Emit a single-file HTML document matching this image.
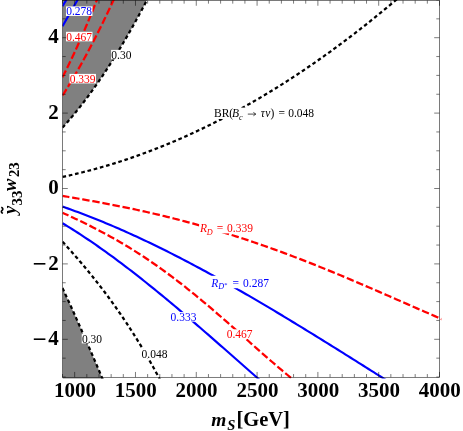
<!DOCTYPE html>
<html><head><meta charset="utf-8"><style>
html,body{margin:0;padding:0;background:#fff;}
body{width:463px;height:431px;position:relative;overflow:hidden;font-family:"Liberation Serif",serif;}
</style></head><body>
<svg width="463" height="431" viewBox="0 0 463 431" style="position:absolute;left:0;top:0;font-family:'Liberation Serif',serif;will-change:transform">
<defs><clipPath id="cp"><rect x="62.50" y="-5" width="378.80" height="383.40"/></clipPath></defs>
<g clip-path="url(#cp)" fill="none">
<path d="M62.50,127.60 L63.25,126.77 L64.01,125.94 L64.76,125.09 L65.51,124.25 L66.26,123.40 L67.02,122.54 L67.77,121.68 L68.52,120.81 L69.27,119.93 L70.03,119.05 L70.78,118.17 L71.53,117.28 L72.28,116.38 L73.04,115.48 L73.79,114.57 L74.54,113.66 L75.29,112.74 L76.05,111.82 L76.80,110.89 L77.55,109.95 L78.30,109.01 L79.06,108.07 L79.81,107.12 L80.56,106.16 L81.31,105.20 L82.07,104.23 L82.82,103.26 L83.57,102.28 L84.32,101.29 L85.08,100.30 L85.83,99.31 L86.58,98.31 L87.33,97.30 L88.09,96.29 L88.84,95.27 L89.59,94.25 L90.34,93.22 L91.10,92.18 L91.85,91.14 L92.60,90.10 L93.35,89.05 L94.11,87.99 L94.86,86.93 L95.61,85.86 L96.36,84.79 L97.12,83.71 L97.87,82.63 L98.62,81.54 L99.37,80.44 L100.13,79.34 L100.88,78.24 L101.63,77.13 L102.39,76.01 L103.14,74.89 L103.89,73.76 L104.64,72.63 L105.40,71.49 L106.15,70.34 L106.90,69.19 L107.65,68.04 L108.41,66.88 L109.16,65.71 L109.91,64.54 L110.66,63.36 L111.42,62.18 L112.17,60.99 L112.92,59.80 L113.67,58.60 L114.43,57.39 L115.18,56.18 L115.93,54.97 L116.68,53.75 L117.44,52.52 L118.19,51.29 L118.94,50.05 L119.69,48.81 L120.45,47.56 L121.20,46.30 L121.95,45.05 L122.70,43.78 L123.46,42.51 L124.21,41.23 L124.96,39.95 L125.71,38.67 L126.47,37.37 L127.22,36.07 L127.97,34.77 L128.72,33.46 L129.48,32.15 L130.23,30.83 L130.98,29.50 L131.73,28.17 L132.49,26.84 L133.24,25.49 L133.99,24.15 L134.74,22.79 L135.50,21.44 L136.25,20.07 L137.00,18.70 L137.75,17.33 L138.51,15.95 L139.26,14.56 L140.01,13.17 L140.76,11.78 L141.52,10.37 L142.27,8.97 L143.02,7.55 L143.78,6.14 L144.53,4.71 L145.28,3.28 L146.03,1.85 L146.79,0.41 L147.54,-1.04 L148.29,-2.49 L149.04,-3.95 L149.80,-5.41 L150.55,-6.87 L151.30,-8.35 L152.05,-9.83 L152.81,-11.31 L62.50,-10 L62.50,-10 Z" fill="#808080"/>
<path d="M62.50,288.04 L62.84,288.77 L63.18,289.51 L63.52,290.24 L63.86,290.98 L64.19,291.71 L64.53,292.45 L64.87,293.19 L65.21,293.93 L65.55,294.66 L65.89,295.40 L66.23,296.14 L66.57,296.88 L66.91,297.63 L67.24,298.37 L67.58,299.11 L67.92,299.85 L68.26,300.60 L68.60,301.34 L68.94,302.08 L69.28,302.83 L69.62,303.58 L69.96,304.32 L70.30,305.07 L70.63,305.82 L70.97,306.57 L71.31,307.31 L71.65,308.06 L71.99,308.81 L72.33,309.56 L72.67,310.32 L73.01,311.07 L73.35,311.82 L73.68,312.57 L74.02,313.33 L74.36,314.08 L74.70,314.84 L75.04,315.59 L75.38,316.35 L75.72,317.10 L76.06,317.86 L76.40,318.62 L76.73,319.38 L77.07,320.14 L77.41,320.90 L77.75,321.66 L78.09,322.42 L78.43,323.18 L78.77,323.94 L79.11,324.70 L79.45,325.47 L79.79,326.23 L80.12,327.00 L80.46,327.76 L80.80,328.53 L81.14,329.29 L81.48,330.06 L81.82,330.83 L82.16,331.59 L82.50,332.36 L82.84,333.13 L83.17,333.90 L83.51,334.67 L83.85,335.44 L84.19,336.22 L84.53,336.99 L84.87,337.76 L85.21,338.53 L85.55,339.31 L85.89,340.08 L86.22,340.86 L86.56,341.63 L86.90,342.41 L87.24,343.19 L87.58,343.96 L87.92,344.74 L88.26,345.52 L88.60,346.30 L88.94,347.08 L89.28,347.86 L89.61,348.64 L89.95,349.42 L90.29,350.21 L90.63,350.99 L90.97,351.77 L91.31,352.56 L91.65,353.34 L91.99,354.13 L92.33,354.91 L92.66,355.70 L93.00,356.49 L93.34,357.27 L93.68,358.06 L94.02,358.85 L94.36,359.64 L94.70,360.43 L95.04,361.22 L95.38,362.01 L95.71,362.80 L96.05,363.60 L96.39,364.39 L96.73,365.18 L97.07,365.98 L97.41,366.77 L97.75,367.57 L98.09,368.36 L98.43,369.16 L98.77,369.96 L99.10,370.76 L99.44,371.55 L99.78,372.35 L100.12,373.15 L100.46,373.95 L100.80,374.75 L101.14,375.56 L101.48,376.36 L101.82,377.16 L102.15,377.96 L102.49,378.77 L102.83,379.57 L103.17,380.38 L103.51,381.18 L103.85,381.99 L104.19,382.79 L104.19,387.00 L62.50,387.00 Z" fill="#808080"/>
<path d="M62.50,127.60 L63.25,126.77 L64.01,125.94 L64.76,125.09 L65.51,124.25 L66.26,123.40 L67.02,122.54 L67.77,121.68 L68.52,120.81 L69.27,119.93 L70.03,119.05 L70.78,118.17 L71.53,117.28 L72.28,116.38 L73.04,115.48 L73.79,114.57 L74.54,113.66 L75.29,112.74 L76.05,111.82 L76.80,110.89 L77.55,109.95 L78.30,109.01 L79.06,108.07 L79.81,107.12 L80.56,106.16 L81.31,105.20 L82.07,104.23 L82.82,103.26 L83.57,102.28 L84.32,101.29 L85.08,100.30 L85.83,99.31 L86.58,98.31 L87.33,97.30 L88.09,96.29 L88.84,95.27 L89.59,94.25 L90.34,93.22 L91.10,92.18 L91.85,91.14 L92.60,90.10 L93.35,89.05 L94.11,87.99 L94.86,86.93 L95.61,85.86 L96.36,84.79 L97.12,83.71 L97.87,82.63 L98.62,81.54 L99.37,80.44 L100.13,79.34 L100.88,78.24 L101.63,77.13 L102.39,76.01 L103.14,74.89 L103.89,73.76 L104.64,72.63 L105.40,71.49 L106.15,70.34 L106.90,69.19 L107.65,68.04 L108.41,66.88 L109.16,65.71 L109.91,64.54 L110.66,63.36 L111.42,62.18 L112.17,60.99 L112.92,59.80 L113.67,58.60 L114.43,57.39 L115.18,56.18 L115.93,54.97 L116.68,53.75 L117.44,52.52 L118.19,51.29 L118.94,50.05 L119.69,48.81 L120.45,47.56 L121.20,46.30 L121.95,45.05 L122.70,43.78 L123.46,42.51 L124.21,41.23 L124.96,39.95 L125.71,38.67 L126.47,37.37 L127.22,36.07 L127.97,34.77 L128.72,33.46 L129.48,32.15 L130.23,30.83 L130.98,29.50 L131.73,28.17 L132.49,26.84 L133.24,25.49 L133.99,24.15 L134.74,22.79 L135.50,21.44 L136.25,20.07 L137.00,18.70 L137.75,17.33 L138.51,15.95 L139.26,14.56 L140.01,13.17 L140.76,11.78 L141.52,10.37 L142.27,8.97 L143.02,7.55 L143.78,6.14 L144.53,4.71 L145.28,3.28 L146.03,1.85 L146.79,0.41 L147.54,-1.04 L148.29,-2.49 L149.04,-3.95 L149.80,-5.41 L150.55,-6.87 L151.30,-8.35 L152.05,-9.83 L152.81,-11.31" stroke="#000" stroke-width="2.25" stroke-dasharray="3.65 2.77"/>
<path d="M62.50,176.90 L65.39,176.28 L68.28,175.65 L71.16,175.00 L74.05,174.33 L76.94,173.65 L79.83,172.95 L82.71,172.23 L85.60,171.50 L88.49,170.76 L91.38,169.99 L94.27,169.22 L97.15,168.42 L100.04,167.61 L102.93,166.78 L105.82,165.94 L108.70,165.08 L111.59,164.21 L114.48,163.32 L117.37,162.41 L120.25,161.49 L123.14,160.55 L126.03,159.60 L128.92,158.63 L131.81,157.64 L134.69,156.64 L137.58,155.62 L140.47,154.58 L143.36,153.53 L146.24,152.47 L149.13,151.38 L152.02,150.29 L154.91,149.17 L157.80,148.04 L160.68,146.90 L163.57,145.73 L166.46,144.56 L169.35,143.36 L172.23,142.15 L175.12,140.93 L178.01,139.68 L180.90,138.43 L183.78,137.15 L186.67,135.86 L189.56,134.56 L192.45,133.23 L195.34,131.90 L198.22,130.54 L201.11,129.17 L204.00,127.79 L206.89,126.39 L209.77,124.97 L212.66,123.54 L215.55,122.09 L218.44,120.62 L221.33,119.14 L224.21,117.64 L227.10,116.13 L229.99,114.60 L232.88,113.05 L235.76,111.49 L238.65,109.92 L241.54,108.32 L244.43,106.71 L247.31,105.09 L250.20,103.45 L253.09,101.79 L255.98,100.12 L258.87,98.43 L261.75,96.73 L264.64,95.01 L267.53,93.27 L270.42,91.52 L273.30,89.75 L276.19,87.97 L279.08,86.17 L281.97,84.35 L284.86,82.52 L287.74,80.67 L290.63,78.81 L293.52,76.93 L296.41,75.03 L299.29,73.12 L302.18,71.19 L305.07,69.25 L307.96,67.29 L310.84,65.32 L313.73,63.32 L316.62,61.32 L319.51,59.29 L322.40,57.26 L325.28,55.20 L328.17,53.13 L331.06,51.04 L333.95,48.94 L336.83,46.82 L339.72,44.69 L342.61,42.54 L345.50,40.37 L348.39,38.19 L351.27,35.99 L354.16,33.78 L357.05,31.55 L359.94,29.30 L362.82,27.04 L365.71,24.76 L368.60,22.47 L371.49,20.16 L374.37,17.83 L377.26,15.49 L380.15,13.14 L383.04,10.76 L385.93,8.37 L388.81,5.97 L391.70,3.55 L394.59,1.11 L397.48,-1.34 L400.36,-3.81 L403.25,-6.29 L406.14,-8.79 L409.03,-11.31" stroke="#000" stroke-width="2.25" stroke-dasharray="3.65 2.77"/>
<path d="M62.50,288.04 L62.84,288.77 L63.18,289.51 L63.52,290.24 L63.86,290.98 L64.19,291.71 L64.53,292.45 L64.87,293.19 L65.21,293.93 L65.55,294.66 L65.89,295.40 L66.23,296.14 L66.57,296.88 L66.91,297.63 L67.24,298.37 L67.58,299.11 L67.92,299.85 L68.26,300.60 L68.60,301.34 L68.94,302.08 L69.28,302.83 L69.62,303.58 L69.96,304.32 L70.30,305.07 L70.63,305.82 L70.97,306.57 L71.31,307.31 L71.65,308.06 L71.99,308.81 L72.33,309.56 L72.67,310.32 L73.01,311.07 L73.35,311.82 L73.68,312.57 L74.02,313.33 L74.36,314.08 L74.70,314.84 L75.04,315.59 L75.38,316.35 L75.72,317.10 L76.06,317.86 L76.40,318.62 L76.73,319.38 L77.07,320.14 L77.41,320.90 L77.75,321.66 L78.09,322.42 L78.43,323.18 L78.77,323.94 L79.11,324.70 L79.45,325.47 L79.79,326.23 L80.12,327.00 L80.46,327.76 L80.80,328.53 L81.14,329.29 L81.48,330.06 L81.82,330.83 L82.16,331.59 L82.50,332.36 L82.84,333.13 L83.17,333.90 L83.51,334.67 L83.85,335.44 L84.19,336.22 L84.53,336.99 L84.87,337.76 L85.21,338.53 L85.55,339.31 L85.89,340.08 L86.22,340.86 L86.56,341.63 L86.90,342.41 L87.24,343.19 L87.58,343.96 L87.92,344.74 L88.26,345.52 L88.60,346.30 L88.94,347.08 L89.28,347.86 L89.61,348.64 L89.95,349.42 L90.29,350.21 L90.63,350.99 L90.97,351.77 L91.31,352.56 L91.65,353.34 L91.99,354.13 L92.33,354.91 L92.66,355.70 L93.00,356.49 L93.34,357.27 L93.68,358.06 L94.02,358.85 L94.36,359.64 L94.70,360.43 L95.04,361.22 L95.38,362.01 L95.71,362.80 L96.05,363.60 L96.39,364.39 L96.73,365.18 L97.07,365.98 L97.41,366.77 L97.75,367.57 L98.09,368.36 L98.43,369.16 L98.77,369.96 L99.10,370.76 L99.44,371.55 L99.78,372.35 L100.12,373.15 L100.46,373.95 L100.80,374.75 L101.14,375.56 L101.48,376.36 L101.82,377.16 L102.15,377.96 L102.49,378.77 L102.83,379.57 L103.17,380.38 L103.51,381.18 L103.85,381.99 L104.19,382.79" stroke="#000" stroke-width="2.25" stroke-dasharray="3.65 2.77"/>
<path d="M62.50,241.64 L63.24,242.46 L63.98,243.27 L64.72,244.09 L65.47,244.91 L66.21,245.74 L66.95,246.56 L67.69,247.39 L68.43,248.22 L69.17,249.05 L69.92,249.88 L70.66,250.72 L71.40,251.56 L72.14,252.40 L72.88,253.24 L73.62,254.09 L74.37,254.94 L75.11,255.79 L75.85,256.64 L76.59,257.49 L77.33,258.35 L78.07,259.21 L78.82,260.07 L79.56,260.94 L80.30,261.81 L81.04,262.68 L81.78,263.55 L82.52,264.43 L83.27,265.31 L84.01,266.19 L84.75,267.08 L85.49,267.97 L86.23,268.86 L86.97,269.76 L87.71,270.65 L88.46,271.56 L89.20,272.46 L89.94,273.37 L90.68,274.28 L91.42,275.19 L92.16,276.11 L92.91,277.03 L93.65,277.96 L94.39,278.89 L95.13,279.82 L95.87,280.75 L96.61,281.69 L97.36,282.64 L98.10,283.58 L98.84,284.53 L99.58,285.49 L100.32,286.44 L101.06,287.41 L101.81,288.37 L102.55,289.34 L103.29,290.31 L104.03,291.29 L104.77,292.27 L105.51,293.26 L106.26,294.25 L107.00,295.24 L107.74,296.24 L108.48,297.24 L109.22,298.25 L109.96,299.26 L110.70,300.28 L111.45,301.30 L112.19,302.32 L112.93,303.35 L113.67,304.38 L114.41,305.42 L115.15,306.46 L115.90,307.51 L116.64,308.56 L117.38,309.62 L118.12,310.68 L118.86,311.75 L119.60,312.82 L120.35,313.89 L121.09,314.98 L121.83,316.06 L122.57,317.15 L123.31,318.25 L124.05,319.35 L124.80,320.46 L125.54,321.57 L126.28,322.68 L127.02,323.81 L127.76,324.93 L128.50,326.07 L129.24,327.20 L129.99,328.35 L130.73,329.50 L131.47,330.65 L132.21,331.81 L132.95,332.98 L133.69,334.15 L134.44,335.32 L135.18,336.51 L135.92,337.69 L136.66,338.89 L137.40,340.09 L138.14,341.29 L138.89,342.50 L139.63,343.72 L140.37,344.94 L141.11,346.17 L141.85,347.41 L142.59,348.65 L143.34,349.90 L144.08,351.15 L144.82,352.41 L145.56,353.68 L146.30,354.95 L147.04,356.23 L147.79,357.52 L148.53,358.81 L149.27,360.11 L150.01,361.41 L150.75,362.72 L151.49,364.04 L152.23,365.36 L152.98,366.70 L153.72,368.03 L154.46,369.38 L155.20,370.73 L155.94,372.09 L156.68,373.45 L157.43,374.82 L158.17,376.20 L158.91,377.59 L159.65,378.98 L160.39,380.38 L161.13,381.79" stroke="#000" stroke-width="2.25" stroke-dasharray="3.65 2.77"/>
<path d="M62.50,77.20 L62.82,76.57 L63.15,75.93 L63.47,75.29 L63.79,74.65 L64.12,74.01 L64.44,73.36 L64.76,72.72 L65.09,72.07 L65.41,71.42 L65.73,70.77 L66.06,70.12 L66.38,69.47 L66.70,68.81 L67.03,68.15 L67.35,67.49 L67.68,66.83 L68.00,66.17 L68.32,65.51 L68.65,64.84 L68.97,64.17 L69.29,63.50 L69.62,62.83 L69.94,62.16 L70.26,61.48 L70.59,60.81 L70.91,60.13 L71.23,59.45 L71.56,58.77 L71.88,58.08 L72.20,57.40 L72.53,56.71 L72.85,56.02 L73.17,55.33 L73.50,54.64 L73.82,53.94 L74.14,53.25 L74.47,52.55 L74.79,51.85 L75.11,51.15 L75.44,50.45 L75.76,49.75 L76.09,49.04 L76.41,48.33 L76.73,47.62 L77.06,46.91 L77.38,46.20 L77.70,45.48 L78.03,44.77 L78.35,44.05 L78.67,43.33 L79.00,42.61 L79.32,41.89 L79.64,41.16 L79.97,40.43 L80.29,39.71 L80.61,38.98 L80.94,38.24 L81.26,37.51 L81.58,36.78 L81.91,36.04 L82.23,35.30 L82.55,34.56 L82.88,33.82 L83.20,33.07 L83.52,32.33 L83.85,31.58 L84.17,30.83 L84.49,30.08 L84.82,29.33 L85.14,28.57 L85.47,27.82 L85.79,27.06 L86.11,26.30 L86.44,25.54 L86.76,24.78 L87.08,24.01 L87.41,23.25 L87.73,22.48 L88.05,21.71 L88.38,20.94 L88.70,20.17 L89.02,19.39 L89.35,18.62 L89.67,17.84 L89.99,17.06 L90.32,16.28 L90.64,15.49 L90.96,14.71 L91.29,13.92 L91.61,13.13 L91.93,12.34 L92.26,11.55 L92.58,10.76 L92.90,9.96 L93.23,9.17 L93.55,8.37 L93.87,7.57 L94.20,6.77 L94.52,5.96 L94.85,5.16 L95.17,4.35 L95.49,3.54 L95.82,2.73 L96.14,1.92 L96.46,1.10 L96.79,0.29 L97.11,-0.53 L97.43,-1.35 L97.76,-2.17 L98.08,-2.99 L98.40,-3.82 L98.73,-4.64 L99.05,-5.47 L99.37,-6.30 L99.70,-7.13 L100.02,-7.96 L100.34,-8.80 L100.67,-9.63 L100.99,-10.47 L101.31,-11.31" stroke="#ff0000" stroke-width="2.25" stroke-dasharray="7.45 2.8" stroke-dashoffset="0"/>
<path d="M62.50,95.50 L62.97,94.76 L63.44,94.03 L63.91,93.28 L64.37,92.54 L64.84,91.79 L65.31,91.05 L65.78,90.29 L66.25,89.54 L66.72,88.78 L67.19,88.02 L67.65,87.26 L68.12,86.50 L68.59,85.73 L69.06,84.96 L69.53,84.19 L70.00,83.41 L70.47,82.63 L70.93,81.85 L71.40,81.07 L71.87,80.28 L72.34,79.49 L72.81,78.70 L73.28,77.91 L73.75,77.11 L74.21,76.31 L74.68,75.51 L75.15,74.71 L75.62,73.90 L76.09,73.09 L76.56,72.28 L77.03,71.46 L77.49,70.65 L77.96,69.83 L78.43,69.00 L78.90,68.18 L79.37,67.35 L79.84,66.52 L80.31,65.69 L80.77,64.85 L81.24,64.02 L81.71,63.17 L82.18,62.33 L82.65,61.49 L83.12,60.64 L83.59,59.79 L84.05,58.93 L84.52,58.08 L84.99,57.22 L85.46,56.36 L85.93,55.49 L86.40,54.63 L86.87,53.76 L87.33,52.89 L87.80,52.01 L88.27,51.13 L88.74,50.25 L89.21,49.37 L89.68,48.49 L90.15,47.60 L90.61,46.71 L91.08,45.82 L91.55,44.92 L92.02,44.03 L92.49,43.13 L92.96,42.23 L93.43,41.32 L93.89,40.41 L94.36,39.50 L94.83,38.59 L95.30,37.67 L95.77,36.76 L96.24,35.84 L96.71,34.91 L97.17,33.99 L97.64,33.06 L98.11,32.13 L98.58,31.20 L99.05,30.26 L99.52,29.32 L99.99,28.38 L100.46,27.44 L100.92,26.49 L101.39,25.55 L101.86,24.59 L102.33,23.64 L102.80,22.69 L103.27,21.73 L103.74,20.77 L104.20,19.80 L104.67,18.84 L105.14,17.87 L105.61,16.90 L106.08,15.92 L106.55,14.95 L107.02,13.97 L107.48,12.99 L107.95,12.00 L108.42,11.02 L108.89,10.03 L109.36,9.04 L109.83,8.05 L110.30,7.05 L110.76,6.05 L111.23,5.05 L111.70,4.05 L112.17,3.04 L112.64,2.03 L113.11,1.02 L113.58,0.01 L114.04,-1.01 L114.51,-2.03 L114.98,-3.05 L115.45,-4.07 L115.92,-5.10 L116.39,-6.13 L116.86,-7.16 L117.32,-8.19 L117.79,-9.23 L118.26,-10.27 L118.73,-11.31" stroke="#ff0000" stroke-width="2.25" stroke-dasharray="7.45 2.8" stroke-dashoffset="0"/>
<path d="M62.50,195.90 L65.05,196.32 L67.60,196.75 L70.15,197.18 L72.70,197.61 L75.25,198.05 L77.80,198.49 L80.35,198.93 L82.90,199.37 L85.45,199.82 L88.00,200.28 L90.55,200.73 L93.10,201.20 L95.65,201.66 L98.20,202.13 L100.76,202.60 L103.31,203.08 L105.86,203.57 L108.41,204.05 L110.96,204.55 L113.51,205.05 L116.06,205.55 L118.61,206.06 L121.16,206.57 L123.71,207.09 L126.26,207.61 L128.81,208.14 L131.36,208.68 L133.91,209.22 L136.46,209.77 L139.01,210.32 L141.56,210.88 L144.11,211.45 L146.66,212.02 L149.21,212.60 L151.76,213.18 L154.31,213.77 L156.86,214.37 L159.41,214.97 L161.96,215.58 L164.51,216.20 L167.06,216.82 L169.61,217.45 L172.16,218.09 L174.71,218.73 L177.27,219.38 L179.82,220.04 L182.37,220.71 L184.92,221.38 L187.47,222.06 L190.02,222.74 L192.57,223.44 L195.12,224.13 L197.67,224.84 L200.22,225.56 L202.77,226.28 L205.32,227.01 L207.87,227.74 L210.42,228.49 L212.97,229.24 L215.52,229.99 L218.07,230.76 L220.62,231.53 L223.17,232.31 L225.72,233.09 L228.27,233.89 L230.82,234.69 L233.37,235.50 L235.92,236.31 L238.47,237.13 L241.02,237.96 L243.57,238.80 L246.12,239.64 L248.67,240.49 L251.22,241.35 L253.78,242.22 L256.33,243.09 L258.88,243.97 L261.43,244.85 L263.98,245.74 L266.53,246.64 L269.08,247.55 L271.63,248.46 L274.18,249.38 L276.73,250.30 L279.28,251.23 L281.83,252.17 L284.38,253.12 L286.93,254.07 L289.48,255.02 L292.03,255.99 L294.58,256.95 L297.13,257.93 L299.68,258.91 L302.23,259.90 L304.78,260.89 L307.33,261.89 L309.88,262.89 L312.43,263.90 L314.98,264.91 L317.53,265.93 L320.08,266.95 L322.63,267.98 L325.18,269.02 L327.73,270.06 L330.29,271.10 L332.84,272.15 L335.39,273.20 L337.94,274.26 L340.49,275.32 L343.04,276.38 L345.59,277.45 L348.14,278.52 L350.69,279.60 L353.24,280.68 L355.79,281.76 L358.34,282.85 L360.89,283.94 L363.44,285.03 L365.99,286.13 L368.54,287.22 L371.09,288.32 L373.64,289.43 L376.19,290.53 L378.74,291.64 L381.29,292.74 L383.84,293.85 L386.39,294.97 L388.94,296.08 L391.49,297.19 L394.04,298.31 L396.59,299.42 L399.14,300.54 L401.69,301.65 L404.24,302.77 L406.80,303.89 L409.35,305.00 L411.90,306.12 L414.45,307.23 L417.00,308.35 L419.55,309.46 L422.10,310.57 L424.65,311.68 L427.20,312.79 L429.75,313.90 L432.30,315.00 L434.85,316.10 L437.40,317.20 L439.95,318.30 L442.50,319.39" stroke="#ff0000" stroke-width="2.25" stroke-dasharray="7.45 2.8" stroke-dashoffset="0.5"/>
<path d="M62.50,212.73 L65.05,213.90 L67.60,215.08 L70.15,216.26 L72.70,217.45 L75.25,218.66 L77.80,219.87 L80.35,221.09 L82.90,222.33 L85.45,223.58 L88.00,224.84 L90.55,226.12 L93.10,227.41 L95.65,228.72 L98.20,230.04 L100.76,231.38 L103.31,232.73 L105.86,234.11 L108.41,235.50 L110.96,236.91 L113.51,238.34 L116.06,239.79 L118.61,241.25 L121.16,242.74 L123.71,244.25 L126.26,245.78 L128.81,247.33 L131.36,248.90 L133.91,250.49 L136.46,252.10 L139.01,253.73 L141.56,255.39 L144.11,257.06 L146.66,258.76 L149.21,260.48 L151.76,262.22 L154.31,263.98 L156.86,265.76 L159.41,267.57 L161.96,269.39 L164.51,271.24 L167.06,273.11 L169.61,274.99 L172.16,276.90 L174.71,278.83 L177.27,280.78 L179.82,282.74 L182.37,284.73 L184.92,286.74 L187.47,288.76 L190.02,290.80 L192.57,292.86 L195.12,294.94 L197.67,297.03 L200.22,299.14 L202.77,301.26 L205.32,303.40 L207.87,305.55 L210.42,307.72 L212.97,309.89 L215.52,312.08 L218.07,314.29 L220.62,316.50 L223.17,318.72 L225.72,320.95 L228.27,323.19 L230.82,325.43 L233.37,327.69 L235.92,329.94 L238.47,332.20 L241.02,334.47 L243.57,336.74 L246.12,339.00 L248.67,341.27 L251.22,343.54 L253.78,345.81 L256.33,348.07 L258.88,350.33 L261.43,352.58 L263.98,354.82 L266.53,357.06 L269.08,359.29 L271.63,361.50 L274.18,363.71 L276.73,365.90 L279.28,368.07 L281.83,370.23 L284.38,372.38 L286.93,374.50 L289.48,376.60 L292.03,378.68 L294.58,380.73 L297.13,382.76" stroke="#ff0000" stroke-width="2.25" stroke-dasharray="7.45 2.8" stroke-dashoffset="0.9"/>
<path d="M62.50,206.60 L65.05,207.48 L67.60,208.38 L70.15,209.29 L72.70,210.21 L75.25,211.14 L77.80,212.08 L80.35,213.03 L82.90,214.00 L85.45,214.97 L88.00,215.96 L90.55,216.95 L93.10,217.96 L95.65,218.98 L98.20,220.00 L100.76,221.04 L103.31,222.09 L105.86,223.15 L108.41,224.22 L110.96,225.29 L113.51,226.38 L116.06,227.48 L118.61,228.59 L121.16,229.70 L123.71,230.83 L126.26,231.96 L128.81,233.11 L131.36,234.26 L133.91,235.43 L136.46,236.60 L139.01,237.78 L141.56,238.97 L144.11,240.17 L146.66,241.38 L149.21,242.59 L151.76,243.82 L154.31,245.05 L156.86,246.29 L159.41,247.54 L161.96,248.80 L164.51,250.06 L167.06,251.33 L169.61,252.61 L172.16,253.90 L174.71,255.20 L177.27,256.50 L179.82,257.81 L182.37,259.13 L184.92,260.46 L187.47,261.79 L190.02,263.13 L192.57,264.48 L195.12,265.83 L197.67,267.19 L200.22,268.56 L202.77,269.93 L205.32,271.31 L207.87,272.70 L210.42,274.09 L212.97,275.49 L215.52,276.90 L218.07,278.31 L220.62,279.73 L223.17,281.15 L225.72,282.58 L228.27,284.01 L230.82,285.45 L233.37,286.90 L235.92,288.35 L238.47,289.81 L241.02,291.27 L243.57,292.73 L246.12,294.21 L248.67,295.68 L251.22,297.16 L253.78,298.65 L256.33,300.14 L258.88,301.64 L261.43,303.14 L263.98,304.64 L266.53,306.15 L269.08,307.66 L271.63,309.18 L274.18,310.70 L276.73,312.23 L279.28,313.76 L281.83,315.29 L284.38,316.83 L286.93,318.37 L289.48,319.91 L292.03,321.46 L294.58,323.01 L297.13,324.56 L299.68,326.12 L302.23,327.67 L304.78,329.24 L307.33,330.80 L309.88,332.37 L312.43,333.94 L314.98,335.51 L317.53,337.09 L320.08,338.67 L322.63,340.25 L325.18,341.83 L327.73,343.41 L330.29,345.00 L332.84,346.59 L335.39,348.18 L337.94,349.77 L340.49,351.36 L343.04,352.96 L345.59,354.55 L348.14,356.15 L350.69,357.75 L353.24,359.35 L355.79,360.95 L358.34,362.55 L360.89,364.16 L363.44,365.76 L365.99,367.37 L368.54,368.97 L371.09,370.58 L373.64,372.18 L376.19,373.79 L378.74,375.40 L381.29,377.00 L383.84,378.61 L386.39,380.22 L388.94,381.82" stroke="#0000ff" stroke-width="2.15"/>
<path d="M62.50,223.22 L65.05,224.76 L67.60,226.33 L70.15,227.91 L72.70,229.50 L75.25,231.12 L77.80,232.76 L80.35,234.42 L82.90,236.09 L85.45,237.78 L88.00,239.49 L90.55,241.22 L93.10,242.96 L95.65,244.72 L98.20,246.50 L100.76,248.29 L103.31,250.10 L105.86,251.92 L108.41,253.76 L110.96,255.62 L113.51,257.49 L116.06,259.37 L118.61,261.27 L121.16,263.18 L123.71,265.11 L126.26,267.05 L128.81,269.00 L131.36,270.96 L133.91,272.94 L136.46,274.93 L139.01,276.93 L141.56,278.94 L144.11,280.97 L146.66,283.00 L149.21,285.05 L151.76,287.11 L154.31,289.17 L156.86,291.25 L159.41,293.34 L161.96,295.43 L164.51,297.54 L167.06,299.65 L169.61,301.77 L172.16,303.90 L174.71,306.04 L177.27,308.19 L179.82,310.34 L182.37,312.50 L184.92,314.67 L187.47,316.84 L190.02,319.02 L192.57,321.21 L195.12,323.40 L197.67,325.60 L200.22,327.80 L202.77,330.01 L205.32,332.22 L207.87,334.43 L210.42,336.65 L212.97,338.88 L215.52,341.10 L218.07,343.33 L220.62,345.57 L223.17,347.80 L225.72,350.04 L228.27,352.28 L230.82,354.52 L233.37,356.76 L235.92,359.01 L238.47,361.25 L241.02,363.50 L243.57,365.74 L246.12,367.99 L248.67,370.23 L251.22,372.48 L253.78,374.72 L256.33,376.96 L258.88,379.20 L261.43,381.44" stroke="#0000ff" stroke-width="2.15"/>
<path d="M62.50,26.30 L77.50,0.00 L80.00,-4.40" stroke="#0000ff" stroke-width="2.15"/>
<path d="M62.50,6.30 L66.25,0.00 L68.00,-2.90" stroke="#0000ff" stroke-width="2.15"/>
</g>
<g stroke="#000" stroke-width="0.52" fill="none">
<rect x="62.50" y="0.45" width="377.00" height="376.80"/>
<path d="M62.50,377.25 v-3.20 M62.50,0.45 v3.20"/>
<path d="M74.66,377.25 v-5.30 M74.66,0.45 v5.30"/>
<path d="M86.82,377.25 v-3.20 M86.82,0.45 v3.20"/>
<path d="M98.98,377.25 v-3.20 M98.98,0.45 v3.20"/>
<path d="M111.15,377.25 v-3.20 M111.15,0.45 v3.20"/>
<path d="M123.31,377.25 v-3.20 M123.31,0.45 v3.20"/>
<path d="M135.47,377.25 v-5.30 M135.47,0.45 v5.30"/>
<path d="M147.63,377.25 v-3.20 M147.63,0.45 v3.20"/>
<path d="M159.79,377.25 v-3.20 M159.79,0.45 v3.20"/>
<path d="M171.95,377.25 v-3.20 M171.95,0.45 v3.20"/>
<path d="M184.11,377.25 v-3.20 M184.11,0.45 v3.20"/>
<path d="M196.27,377.25 v-5.30 M196.27,0.45 v5.30"/>
<path d="M208.44,377.25 v-3.20 M208.44,0.45 v3.20"/>
<path d="M220.60,377.25 v-3.20 M220.60,0.45 v3.20"/>
<path d="M232.76,377.25 v-3.20 M232.76,0.45 v3.20"/>
<path d="M244.92,377.25 v-3.20 M244.92,0.45 v3.20"/>
<path d="M257.08,377.25 v-5.30 M257.08,0.45 v5.30"/>
<path d="M269.24,377.25 v-3.20 M269.24,0.45 v3.20"/>
<path d="M281.40,377.25 v-3.20 M281.40,0.45 v3.20"/>
<path d="M293.56,377.25 v-3.20 M293.56,0.45 v3.20"/>
<path d="M305.73,377.25 v-3.20 M305.73,0.45 v3.20"/>
<path d="M317.89,377.25 v-5.30 M317.89,0.45 v5.30"/>
<path d="M330.05,377.25 v-3.20 M330.05,0.45 v3.20"/>
<path d="M342.21,377.25 v-3.20 M342.21,0.45 v3.20"/>
<path d="M354.37,377.25 v-3.20 M354.37,0.45 v3.20"/>
<path d="M366.53,377.25 v-3.20 M366.53,0.45 v3.20"/>
<path d="M378.69,377.25 v-5.30 M378.69,0.45 v5.30"/>
<path d="M390.85,377.25 v-3.20 M390.85,0.45 v3.20"/>
<path d="M403.02,377.25 v-3.20 M403.02,0.45 v3.20"/>
<path d="M415.18,377.25 v-3.20 M415.18,0.45 v3.20"/>
<path d="M427.34,377.25 v-3.20 M427.34,0.45 v3.20"/>
<path d="M439.50,377.25 v-5.30 M439.50,0.45 v5.30"/>
<path d="M62.50,377.00 h3.20 M439.50,377.00 h-3.20"/>
<path d="M62.50,358.15 h3.20 M439.50,358.15 h-3.20"/>
<path d="M62.50,339.30 h5.30 M439.50,339.30 h-5.30"/>
<path d="M62.50,320.45 h3.20 M439.50,320.45 h-3.20"/>
<path d="M62.50,301.60 h3.20 M439.50,301.60 h-3.20"/>
<path d="M62.50,282.75 h3.20 M439.50,282.75 h-3.20"/>
<path d="M62.50,263.90 h5.30 M439.50,263.90 h-5.30"/>
<path d="M62.50,245.05 h3.20 M439.50,245.05 h-3.20"/>
<path d="M62.50,226.20 h3.20 M439.50,226.20 h-3.20"/>
<path d="M62.50,207.35 h3.20 M439.50,207.35 h-3.20"/>
<path d="M62.50,188.50 h5.30 M439.50,188.50 h-5.30"/>
<path d="M62.50,169.65 h3.20 M439.50,169.65 h-3.20"/>
<path d="M62.50,150.80 h3.20 M439.50,150.80 h-3.20"/>
<path d="M62.50,131.95 h3.20 M439.50,131.95 h-3.20"/>
<path d="M62.50,113.10 h5.30 M439.50,113.10 h-5.30"/>
<path d="M62.50,94.25 h3.20 M439.50,94.25 h-3.20"/>
<path d="M62.50,75.40 h3.20 M439.50,75.40 h-3.20"/>
<path d="M62.50,56.55 h3.20 M439.50,56.55 h-3.20"/>
<path d="M62.50,37.70 h5.30 M439.50,37.70 h-5.30"/>
<path d="M62.50,18.85 h3.20 M439.50,18.85 h-3.20"/>
<path d="M62.50,0.00 h3.20 M439.50,0.00 h-3.20"/>
</g>
<g font-weight="bold" font-size="21" fill="#000">
<text x="74.96" y="396.5" text-anchor="middle">1000</text>
<text x="135.77" y="396.5" text-anchor="middle">1500</text>
<text x="196.57" y="396.5" text-anchor="middle">2000</text>
<text x="257.38" y="396.5" text-anchor="middle">2500</text>
<text x="318.19" y="396.5" text-anchor="middle">3000</text>
<text x="378.99" y="396.5" text-anchor="middle">3500</text>
<text x="439.80" y="396.5" text-anchor="middle">4000</text>
<text x="58.7" y="43.40" text-anchor="end">4</text>
<text x="58.7" y="118.80" text-anchor="end">2</text>
<text x="58.7" y="194.20" text-anchor="end">0</text>
<text x="58.7" y="269.60" text-anchor="end">2</text>
<rect x="33.8" y="263.00" width="11.6" height="1.6"/>
<text x="58.7" y="345.00" text-anchor="end">4</text>
<rect x="33.8" y="338.40" width="11.6" height="1.6"/>
<text x="211.2" y="426.1" font-style="italic" font-size="19.4">m</text>
<text x="227.3" y="430.3" font-style="italic" font-size="14.5">S</text>
<text x="236.4" y="426.1" font-size="20.5">[GeV]</text>
<g transform="translate(15.9,216.4) rotate(-90)" font-style="italic">
<text x="2.3" y="0" font-size="18.5">y</text>
<text x="11.0" y="6.0" font-size="14.8" font-style="normal">33</text>
<text x="25.4" y="0" font-size="18.5">w</text>
<text x="39.3" y="3.4" font-size="14.8" font-style="normal">23</text>
<path d="M3.0,-13.0 c1.1,-2.0 2.2,-1.9 3.1,-0.8 c0.9,1.1 2.0,1.2 3.1,-0.8" stroke="#000" stroke-width="1.6" fill="none"/>
</g>
</g>
<rect x="66.00" y="6.40" width="26.47" height="9.55" fill="#fff"/>
<text x="66.20" y="15.30" font-size="11.5" fill="#0000ff">0.278</text>
<rect x="66.00" y="31.80" width="26.47" height="9.55" fill="#fff"/>
<text x="66.20" y="40.70" font-size="11.5" fill="#ff0000">0.467</text>
<rect x="69.50" y="73.90" width="26.47" height="9.55" fill="#fff"/>
<text x="69.70" y="82.80" font-size="11.5" fill="#ff0000">0.339</text>
<rect x="111.10" y="49.90" width="20.72" height="9.55" fill="#fff"/>
<text x="111.30" y="58.80" font-size="11.5" fill="#000">0.30</text>
<rect x="170.30" y="312.10" width="26.47" height="9.55" fill="#fff"/>
<text x="170.50" y="321.00" font-size="11.5" fill="#0000ff">0.333</text>
<rect x="226.50" y="329.30" width="26.47" height="9.55" fill="#fff"/>
<text x="226.70" y="338.20" font-size="11.5" fill="#ff0000">0.467</text>
<rect x="81.75" y="333.85" width="20.72" height="9.55" fill="#fff"/>
<text x="81.95" y="342.75" font-size="11.5" fill="#000">0.30</text>
<rect x="141.40" y="349.00" width="26.47" height="9.55" fill="#fff"/>
<text x="141.60" y="357.90" font-size="11.5" fill="#000">0.048</text>
<rect x="213.60" y="107.60" width="101.00" height="11.40" fill="#fff"/>
<g font-size="11.5" fill="#000">
<text x="214.0" y="117.2">BR(</text>
<text x="231.9" y="117.2" font-style="italic">B</text>
<text x="239.0" y="119.6" font-style="italic" font-size="8.2">c</text>
<path d="M247.8,114.1 H255.6 M253.4,112.4 L255.8,114.1 L253.4,115.8" stroke="#000" stroke-width="0.7" fill="none"/>
<text x="260.8" y="117.2" font-style="italic" letter-spacing="0.3">τν</text>
<text x="270.6" y="117.2">)</text>
<text x="278.4" y="117.2">=</text>
<text x="288.2" y="117.2">0.048</text>
</g>
<rect x="199.20" y="223.40" width="54.20" height="10.00" fill="#fff"/>
<g font-size="11.5" fill="#ff0000">
<text x="199.9" y="232.3" font-style="italic">R</text>
<text x="206.7" y="234.6" font-style="italic" font-size="8.2">D</text>
<text x="216.7" y="232.3">=</text>
<text x="227.0" y="232.3">0.339</text>
</g>
<rect x="210.80" y="275.80" width="58.60" height="12.40" fill="#fff"/>
<g font-size="11.5" fill="#0000ff">
<text x="211.3" y="286.8" font-style="italic">R</text>
<text x="218.2" y="289.2" font-style="italic" font-size="8.2">D</text>
<text x="224.2" y="286.8" font-size="6.5">*</text>
<text x="232.6" y="286.8">=</text>
<text x="243.1" y="286.8">0.287</text>
</g>
</svg>
</body></html>
